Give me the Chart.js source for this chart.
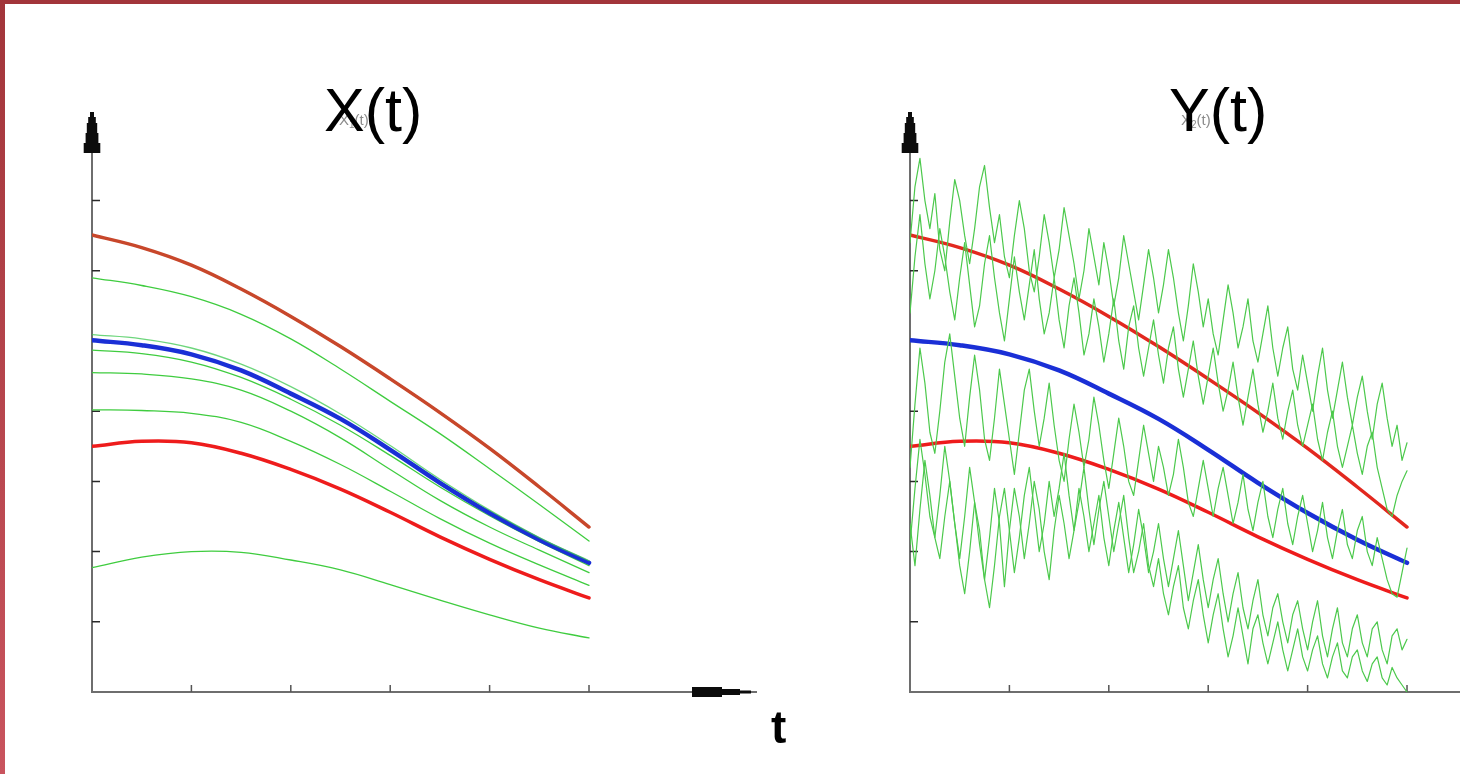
<!DOCTYPE html>
<html>
<head>
<meta charset="utf-8">
<script src="https://cdn.jsdelivr.net/npm/chart.js@4.4.1/dist/chart.umd.min.js"></script>
<style>
  html,body{margin:0;padding:0;background:#fff;}
  body{width:1460px;height:774px;overflow:hidden;position:relative;font-family:"Liberation Sans",Arial,sans-serif;}
  .abs{position:absolute;}
  .title{font-size:61px;line-height:61px;color:#000;white-space:nowrap;z-index:3;}
  .ghost{font-size:15px;line-height:15px;color:#8c8c8c;white-space:nowrap;z-index:2;}
  .ghost sub{font-size:10px;vertical-align:-3px;}
  canvas{position:absolute;top:0;z-index:1;}
</style>
</head>
<body>
<div class="abs" style="left:0;top:0;width:1460px;height:4px;background:#a2353a;z-index:5"></div>
<div class="abs" style="left:0;top:0;width:5px;height:774px;background:linear-gradient(#a2353a,#c9545e);z-index:5"></div>

<canvas id="c1" width="800" height="774" style="left:0;width:800px;height:774px"></canvas>
<canvas id="c2" width="660" height="774" style="left:800px;width:660px;height:774px"></canvas>

<div class="abs ghost" style="left:339px;top:112px">X<sub>1</sub>(t)</div>
<div class="abs title" style="left:324px;top:80px">X(t)</div>
<div class="abs ghost" style="left:1181px;top:112px">X<sub>2</sub>(t)</div>
<div class="abs title" style="left:1169px;top:80px">Y(t)</div>
<div class="abs" style="left:771px;top:704px;font-size:46px;line-height:46px;font-weight:bold;z-index:3">t</div>

<script>
// ---- time grids ----
const tSmooth = [0,0.5,1,1.5,2,2.5,3,3.5,4,4.5,5];
const tNoisy = [0,0.05,0.1,0.15,0.2,0.25,0.3,0.35,0.4,0.45,
  0.5,0.55,0.6,0.65,0.7,0.75,0.8,0.85,0.9,0.95,
  1,1.05,1.1,1.15,1.2,1.25,1.3,1.35,1.4,1.45,
  1.5,1.55,1.6,1.65,1.7,1.75,1.8,1.85,1.9,1.95,
  2,2.05,2.1,2.15,2.2,2.25,2.3,2.35,2.4,2.45,
  2.5,2.55,2.6,2.65,2.7,2.75,2.8,2.85,2.9,2.95,
  3,3.05,3.1,3.15,3.2,3.25,3.3,3.35,3.4,3.45,
  3.5,3.55,3.6,3.65,3.7,3.75,3.8,3.85,3.9,3.95,
  4,4.05,4.1,4.15,4.2,4.25,4.3,4.35,4.4,4.45,
  4.5,4.55,4.6,4.65,4.7,4.75,4.8,4.85,4.9,4.95,5];

// ---- axis tick positions ----
const xTickValues = [1,2,3,4,5];
const yTickValues = [1,2,3,4,5,6,7];

// ---- mean and bounds (both panels) ----
const upperBound = [6.51,6.33,6.08,5.74,5.35,4.92,4.46,3.98,3.47,2.92,2.35];
const meanPath   = [5.01,4.94,4.81,4.58,4.25,3.89,3.45,2.98,2.55,2.17,1.84];
const lowerBound = [3.50,3.57,3.55,3.40,3.17,2.89,2.56,2.21,1.89,1.60,1.34];

// ---- X(t) sample paths ----
const xPath1 = [5.90,5.79,5.63,5.38,5.03,4.60,4.14,3.68,3.18,2.67,2.15];
const xPath2 = [5.09,5.03,4.90,4.67,4.35,3.96,3.51,3.03,2.59,2.20,1.87];
const xPath3 = [4.87,4.82,4.70,4.48,4.17,3.80,3.37,2.92,2.51,2.14,1.80];
const xPath4 = [4.55,4.53,4.46,4.30,4.00,3.62,3.17,2.73,2.35,2.02,1.70];
const xPath5 = [4.02,4.01,3.97,3.84,3.57,3.24,2.86,2.47,2.12,1.81,1.52];
const xPath6 = [1.77,1.92,2.00,1.99,1.88,1.74,1.53,1.31,1.10,0.91,0.77];

// ---- Y(t) noisy sample paths ----
const yPath1 = [6.4,7.2,7.6,7.0,6.6,7.1,6.3,6.0,6.7,7.3,
  7.0,6.5,6.1,6.6,7.2,7.5,6.9,6.4,6.8,6.2,
  5.9,6.5,7.0,6.6,6.0,5.7,6.2,6.8,6.4,5.9,
  6.3,6.9,6.5,6.1,5.6,6.0,6.6,6.2,5.8,6.4,
  6.0,5.5,5.9,6.5,6.1,5.7,5.3,5.8,6.3,5.9,
  5.4,5.8,6.3,5.9,5.4,5.0,5.5,6.1,5.7,5.2,
  5.6,5.1,4.8,5.3,5.8,5.4,4.9,5.2,5.6,5.0,
  4.7,5.1,5.5,4.9,4.5,4.9,5.2,4.6,4.3,4.8,
  4.4,4.0,4.5,4.9,4.3,3.9,4.3,4.7,4.2,3.8,
  4.2,4.5,4.0,3.6,4.1,4.4,3.9,3.5,3.8,3.3,3.55];
const yPath2 = [5.4,6.2,6.8,6.1,5.6,6.0,6.6,6.2,5.7,5.3,
  5.9,6.4,5.8,5.2,5.5,6.1,6.5,5.9,5.4,5.0,
  5.6,6.2,5.7,5.3,5.8,6.3,5.6,5.1,5.4,5.9,
  5.3,4.9,5.5,5.9,5.4,4.8,5.1,5.6,5.2,4.7,
  5.1,5.6,5.0,4.6,5.2,5.5,4.9,4.5,4.9,5.3,
  4.8,4.4,4.9,5.2,4.6,4.2,4.6,5.0,4.5,4.1,
  4.5,4.9,4.4,4.0,4.3,4.7,4.2,3.8,4.2,4.6,
  4.1,3.7,4.0,4.4,3.9,3.6,4.0,4.3,3.8,3.5,
  3.8,4.1,3.6,3.3,3.7,4.0,3.5,3.2,3.5,3.8,
  3.4,3.1,3.5,3.7,3.2,2.9,2.6,2.5,2.8,3.0,3.15];
const yPath3 = [3.2,4.1,4.9,4.4,3.7,3.4,4.0,4.7,5.1,4.5,
  3.9,3.5,4.2,4.8,4.3,3.6,3.3,3.9,4.6,4.1,
  3.6,3.1,3.7,4.3,4.6,4.0,3.5,3.9,4.4,3.8,
  3.3,3.0,3.6,4.1,3.7,3.2,3.6,4.2,3.8,3.3,
  2.9,3.4,3.9,3.5,3.0,2.8,3.3,3.8,3.4,3.0,
  3.5,3.2,2.8,3.1,3.6,3.2,2.7,2.5,2.9,3.3,
  2.9,2.5,2.9,3.2,2.8,2.4,2.7,3.1,2.6,2.3,
  2.7,3.0,2.5,2.2,2.6,2.9,2.4,2.1,2.5,2.8,
  2.4,2.0,2.3,2.7,2.2,1.9,2.3,2.6,2.1,1.9,
  2.3,2.5,2.0,1.8,2.2,1.9,1.6,1.4,1.35,1.7,2.05];
const yPath4 = [2.1,2.9,3.6,3.1,2.5,2.2,2.8,3.5,3.0,2.4,
  1.9,2.5,3.2,2.7,2.1,1.6,2.2,2.9,2.4,1.5,
  2.3,2.9,2.5,1.9,2.4,3.0,2.6,2.0,1.6,2.3,
  2.8,2.4,1.9,2.3,2.9,2.5,2.0,2.4,2.8,2.2,
  1.8,2.3,2.7,2.2,1.7,2.1,2.6,2.2,1.7,2.0,
  2.4,1.9,1.5,1.9,2.3,1.8,1.3,1.7,2.1,1.6,
  1.2,1.6,1.9,1.4,1.0,1.4,1.7,1.2,0.9,1.3,
  1.6,1.1,0.8,1.2,1.4,1.0,0.7,1.1,1.3,0.9,
  0.6,1.0,1.3,0.8,0.5,0.9,1.2,0.7,0.5,0.9,
  1.1,0.7,0.5,0.9,1.0,0.6,0.4,0.8,0.9,0.6,0.75];
const yPath5 = [2.4,1.8,2.6,3.3,2.8,2.2,1.9,2.5,3.0,2.4,
  1.8,1.4,2.0,2.7,2.3,1.6,1.2,1.8,2.5,2.9,
  2.3,1.7,2.2,2.8,3.2,2.6,2.0,2.4,3.0,2.5,
  2.9,3.4,2.8,2.3,2.7,3.2,2.6,2.1,2.6,3.0,
  2.5,2.0,2.4,2.8,2.2,1.7,2.0,2.4,1.8,1.5,
  1.9,1.4,1.1,1.5,1.8,1.2,0.9,1.3,1.6,1.1,
  0.7,1.1,1.4,0.9,0.5,0.8,1.2,0.8,0.4,0.9,
  1.1,0.7,0.4,0.7,1.0,0.6,0.3,0.6,0.9,0.5,
  0.3,0.6,0.8,0.4,0.2,0.5,0.7,0.3,0.2,0.5,
  0.6,0.3,0.15,0.4,0.5,0.2,0.1,0.35,0.2,0.1,0.0];

// ---- styling ----
const GREEN = '#3fcc3f';
const GREEN_NOISY = '#4cc94c';
const RED = '#ee1c1c';
const RED_UPPER_LEFT = '#c8472b';
const RED_UPPER_RIGHT = '#e2281f';
const BLUE = '#1a2fd6';

function pts(ts, vs){ return ts.map((t,i)=>({x:t, y:vs[i]})); }

function lineDs(ts, vs, color, width, order, smooth){
  return {data: pts(ts, vs), borderColor: color, borderWidth: width, pointRadius: 0,
          fill: false, order: order, tension: smooth ? 0.4 : 0,
          borderJoinStyle:'round', borderCapStyle:'round'};
}

const axisArt = {
  id: 'axisArt',
  beforeDatasetsDraw(chart, args, opts){
    const {ctx, chartArea, scales:{x, y}} = chart;
    const x0 = x.getPixelForValue(0), y0 = y.getPixelForValue(0);
    ctx.save();
    ctx.strokeStyle = '#6e6e6e';
    ctx.lineWidth = 2;
    ctx.beginPath();
    ctx.moveTo(x0, y0 + 1); ctx.lineTo(x0, chartArea.top + 40);
    ctx.moveTo(x0 - 1, y0); ctx.lineTo(chartArea.right, y0);
    ctx.stroke();
    ctx.strokeStyle = '#2a2a2a';
    ctx.lineWidth = 1.5;
    ctx.beginPath();
    yTickValues.forEach(v => { const py = y.getPixelForValue(v); ctx.moveTo(x0, py); ctx.lineTo(x0 + 8, py); });
    ctx.stroke();
    ctx.strokeStyle = '#555';
    ctx.beginPath();
    xTickValues.forEach(v => { const px = x.getPixelForValue(v); ctx.moveTo(px, y0); ctx.lineTo(px, y0 - 7); });
    ctx.stroke();
    ctx.restore();
  },
  afterDatasetsDraw(chart, args, opts){
    const {ctx, chartArea, scales:{x, y}} = chart;
    const x0 = x.getPixelForValue(0), y0 = y.getPixelForValue(0);
    const top = chartArea.top;
    ctx.save();
    ctx.fillStyle = '#0c0c0c';
    // stepped "pagoda" arrowhead on the vertical axis
    ctx.fillRect(x0 - 2, top + 2, 4, 6);
    ctx.fillRect(x0 - 3.8, top + 7, 7.6, 7);
    ctx.fillRect(x0 - 5.2, top + 13, 10.4, 11);
    ctx.fillRect(x0 - 6.4, top + 23, 12.8, 11);
    ctx.fillRect(x0 - 8.3, top + 33, 16.6, 10);
    if (opts.xArrow){
      const r = chartArea.right;
      ctx.fillRect(r - 65, y0 - 5, 30, 10);
      ctx.fillRect(r - 35, y0 - 3, 18, 6);
      ctx.fillRect(r - 17, y0 - 1.5, 11, 3);
    }
    ctx.restore();
  }
};

function baseOptions(pad, xMax, xArrow){
  return {
    responsive: false,
    animation: false,
    events: [],
    layout: {padding: pad},
    plugins: {legend: {display: false}, tooltip: {enabled: false}, title: {display: false}, axisArt: {xArrow: xArrow}},
    scales: {
      x: {type: 'linear', min: 0, max: xMax, display: false},
      y: {type: 'linear', min: 0, max: 8.29, display: false}
    }
  };
}

// Left panel: X(t)
new Chart(document.getElementById('c1'), {
  type: 'line',
  data: {datasets: [
    lineDs(tSmooth, upperBound, RED_UPPER_LEFT, 3.5, 1, true),
    lineDs(tSmooth, lowerBound, RED, 3.5, 2, true),
    lineDs(tSmooth, xPath2, 'rgba(60,200,80,0.75)', 1.3, 3, true),
    lineDs(tSmooth, meanPath, BLUE, 4.5, 4, true),
    lineDs(tSmooth, xPath1, GREEN, 1.3, 5, true),
    lineDs(tSmooth, xPath3, GREEN, 1.3, 6, true),
    lineDs(tSmooth, xPath4, GREEN, 1.3, 7, true),
    lineDs(tSmooth, xPath5, GREEN, 1.3, 8, true),
    lineDs(tSmooth, xPath6, GREEN, 1.3, 9, true),
    lineDs(tSmooth, upperBound, GREEN, 2, 10, true)
  ]},
  options: baseOptions({left: 92, right: 43, top: 110, bottom: 82}, 6.69, true),
  plugins: [axisArt]
});

// Right panel: Y(t)
new Chart(document.getElementById('c2'), {
  type: 'line',
  data: {datasets: [
    lineDs(tNoisy, yPath1, GREEN_NOISY, 1.2, 1, false),
    lineDs(tNoisy, yPath2, GREEN_NOISY, 1.2, 2, false),
    lineDs(tNoisy, yPath3, GREEN_NOISY, 1.2, 3, false),
    lineDs(tNoisy, yPath4, GREEN_NOISY, 1.2, 4, false),
    lineDs(tNoisy, yPath5, GREEN_NOISY, 1.2, 5, false),
    lineDs(tSmooth, upperBound, RED_UPPER_RIGHT, 3.5, 6, true),
    lineDs(tSmooth, lowerBound, RED, 3.5, 7, true),
    lineDs(tSmooth, meanPath, BLUE, 4.5, 8, true)
  ]},
  options: baseOptions({left: 110, right: 0, top: 110, bottom: 82}, 5.533, false),
  plugins: [axisArt]
});
</script>
</body>
</html>
